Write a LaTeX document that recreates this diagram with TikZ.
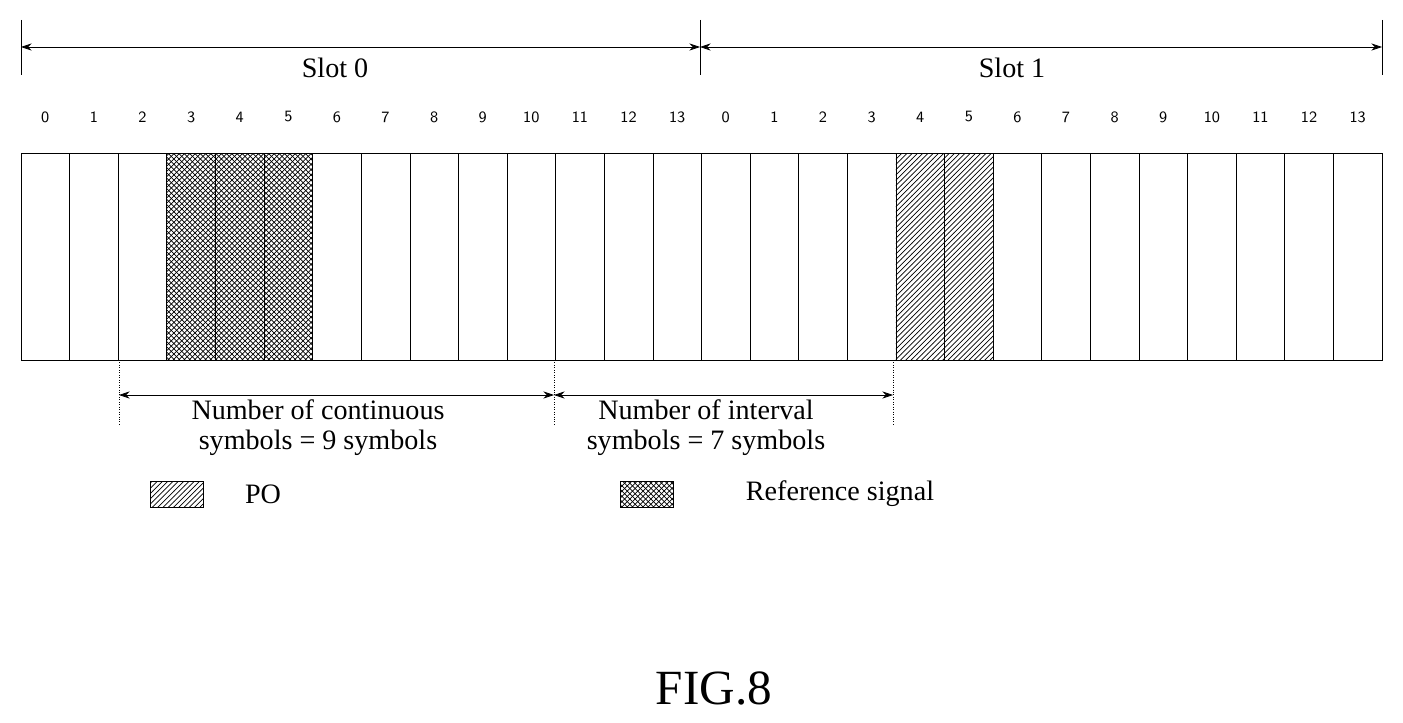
\documentclass[tikz,border=0pt]{standalone}
\usepackage{fontspec}
\setmainfont{Liberation Serif}
\usetikzlibrary{patterns,arrows.meta,calc}
\tikzset{
  cell/.style={draw, thin},
  dimline/.style={<->, >={Stealth[length=6pt,width=4pt]}},
  tick/.style={thin},
  guide/.style={densely dotted, thin},
  refsig/.style={pattern=north east lines},
  refsigb/.style={pattern=north west lines},
  po/.style={pattern=north east lines},
  txt/.style={font=\fontsize{16}{17}\selectfont}
}
\begin{document}
\begin{tikzpicture}[x=0.02cm, y=-0.02cm]
	\useasboundingbox (0,0) rectangle (1403,723);
	% slot arrows
	\coordinate (s0) at (21,47);
	\coordinate (s1) at (700,47);
	\coordinate (s2) at (1382,47);
	\foreach \p in {s0,s1,s2} \draw[tick] ($(\p)+(0,-27)$) -- ($(\p)+(0,28)$);
	\draw[dimline] (s0) -- (s1);
	\draw[dimline] (s1) -- (s2);
	\node[txt] (slot0) at (335,68) {Slot 0};
	\node[txt] (slot1) at (1012,68) {Slot 1};
	% cells
	\foreach \i in {0,...,27} {
		\pgfmathsetmacro{\xa}{21+\i*48.607}
		\pgfmathtruncatemacro{\n}{mod(\i,14)}
		\node[font=\sffamily\small] (n\i) at (\xa+24.3,117) {\n};
	}
	\foreach \i in {3,4,5} {
		\fill[refsig] (21+\i*48.607,153) rectangle (21+\i*48.607+48.607,360);
		\fill[refsigb] (21+\i*48.607,153) rectangle (21+\i*48.607+48.607,360);
	}
	\foreach \i in {18,19}
		\fill[po] (21+\i*48.607,153) rectangle (21+\i*48.607+48.607,360);
	\foreach \i in {0,...,27}
		\draw[cell] (21+\i*48.607,153) rectangle (21+\i*48.607+48.607,360);
	% bottom dimensions
	\coordinate (b0) at (119,395);
	\coordinate (b1) at (554,395);
	\coordinate (b2) at (893,395);
	\foreach \p in {b0,b1,b2} \draw[guide] ($(\p)+(0,-35)$) -- ($(\p)+(0,30)$);
	\draw[dimline] (b0) -- (b1);
	\draw[dimline] (b1) -- (b2);
	\node[align=center, txt, inner sep=0pt] (cont) at (318,428) {Number of continuous\\symbols = 9 symbols};
	\node[align=center, txt, inner sep=0pt] (intv) at (706,428) {Number of interval\\symbols = 7 symbols};
	% legend
	\fill[po] (150,481) rectangle (203,507);
	\draw[cell] (150,481) rectangle (203,507);
	\node[txt] (polab) at (263,494) {PO};
	\fill[refsig] (620,481) rectangle (673,507);
	\fill[refsigb] (620,481) rectangle (673,507);
	\draw[cell] (620,481) rectangle (673,507);
	\node[txt] (rslab) at (840,494) {Reference signal};
	\node[font=\fontsize{28}{32}\selectfont] (fig) at (714,688) {FIG.8};
\end{tikzpicture}
\end{document}
